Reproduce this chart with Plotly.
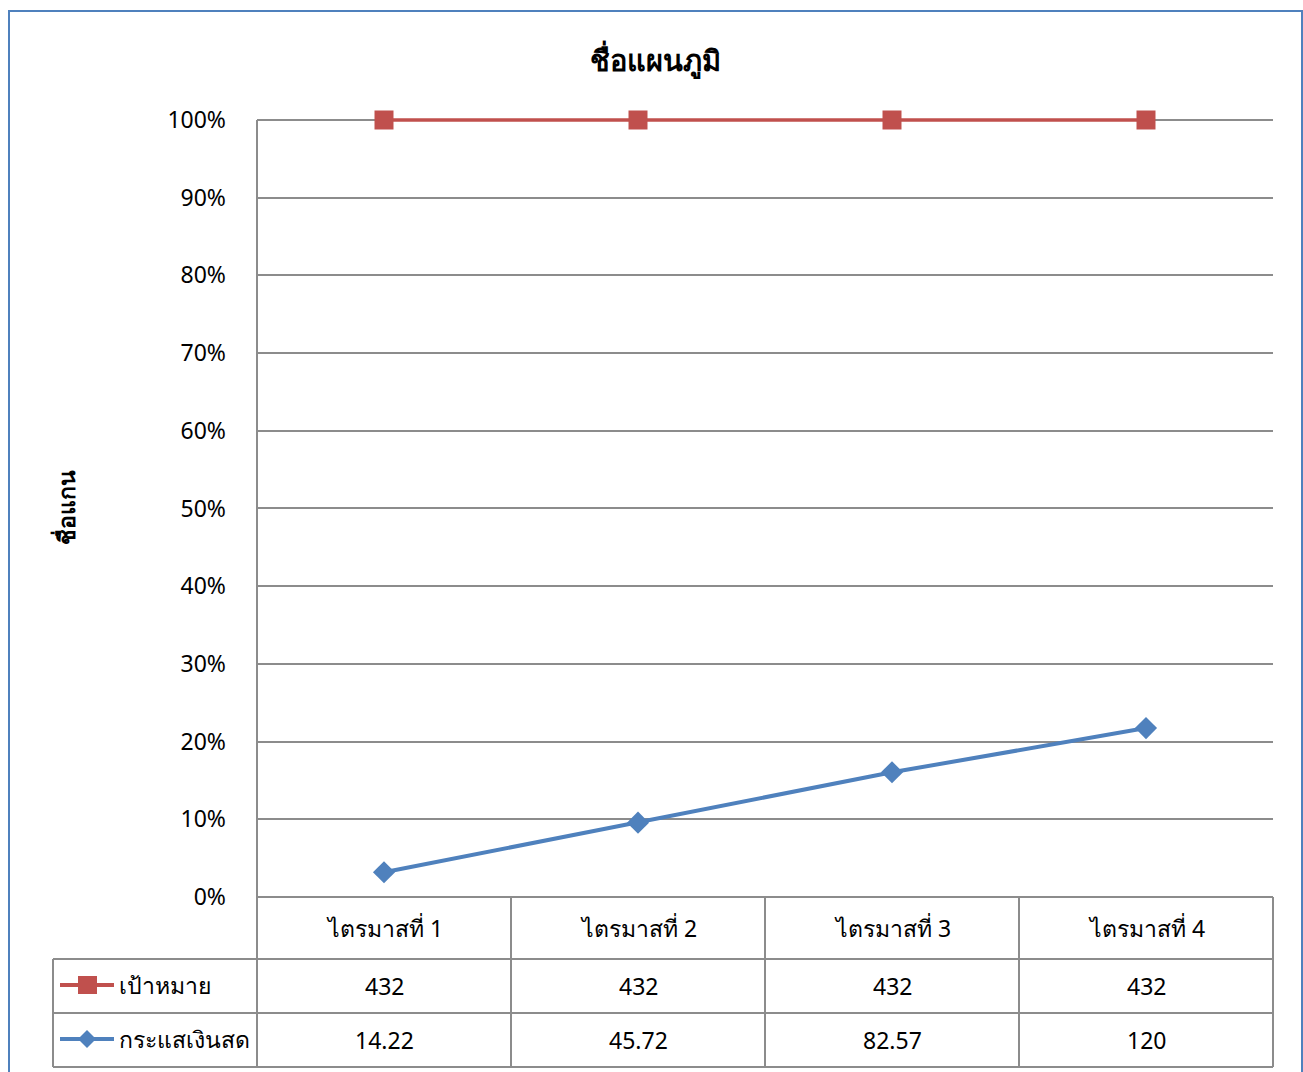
import plotly.graph_objects as go

categories = ["ไตรมาสที่ 1", "ไตรมาสที่ 2", "ไตรมาสที่ 3", "ไตรมาสที่ 4"]
series_names = ["เป้าหมาย", "กระแสเงินสด"]
target_values = [432, 432, 432, 432]
cash_values = [14.22, 45.72, 82.57, 120]
cash_labels = ["14.22", "45.72", "82.57", "120"]
target_labels = ["432", "432", "432", "432"]
chart_title = "ชื่อแผนภูมิ"
y_title = "ชื่อแกน"

W, H = 1303, 1072
FONT = "Noto Sans, DejaVu Sans, sans-serif"
RED = "#C0504D"
BLUE = "#4F81BD"
GRID = "#8C8C8C"


def xp(px):
    return px / W


def yp(py):
    return 1 - py / H


# 100% stacked line: cash first, target stacked on top
totals = [c + t for c, t in zip(cash_values, target_values)]
cash_pct = [c / s for c, s in zip(cash_values, totals)]
target_pct = [(c + t) / s for c, t, s in zip(cash_values, target_values, totals)]

x_idx = list(range(len(categories)))

fig = go.Figure()
fig.add_trace(go.Scatter(
    x=x_idx, y=target_pct, mode="lines+markers", name=series_names[0],
    line=dict(color=RED, width=3.5),
    marker=dict(symbol="square", size=19, color=RED),
    cliponaxis=False, showlegend=False,
))
fig.add_trace(go.Scatter(
    x=x_idx, y=cash_pct, mode="lines+markers", name=series_names[1],
    line=dict(color=BLUE, width=4),
    marker=dict(symbol="diamond", size=17, color=BLUE),
    cliponaxis=False, showlegend=False,
))

plot_l, plot_r, plot_t, plot_b = 257, 1273, 120, 897
col_w = (plot_r - plot_l) / len(categories)
row_hdr_b = 959
row1_b = 1013
row2_b = 1067
leg_l = 53

# small headroom above 100% so the top line isn't clipped
y_top = 1.006
dom_top_px = plot_b - (plot_b - plot_t) * y_top

shapes = []
annots = []
line_style = dict(color=GRID, width=2)

# outer chart border
shapes.append(dict(type="rect", xref="paper", yref="paper",
                   x0=xp(9), x1=xp(1302), y0=yp(1090), y1=yp(11),
                   line=dict(color=BLUE, width=2)))

# y axis line
shapes.append(dict(type="line", xref="paper", yref="paper",
                   x0=xp(plot_l), x1=xp(plot_l), y0=yp(plot_b), y1=yp(plot_t),
                   line=line_style, layer="below"))

# table horizontal lines
for y in [plot_b, row_hdr_b, row1_b, row2_b]:
    x0 = plot_l if y == plot_b else leg_l
    shapes.append(dict(type="line", xref="paper", yref="paper",
                       x0=xp(x0), x1=xp(plot_r), y0=yp(y), y1=yp(y), line=line_style))
# vertical lines
for i in range(len(categories) + 1):
    x = plot_l + i * col_w
    shapes.append(dict(type="line", xref="paper", yref="paper",
                       x0=xp(x), x1=xp(x), y0=yp(plot_b), y1=yp(row2_b), line=line_style))
shapes.append(dict(type="line", xref="paper", yref="paper",
                   x0=xp(leg_l), x1=xp(leg_l), y0=yp(row_hdr_b), y1=yp(row2_b), line=line_style))

tfont = dict(family=FONT, size=23, color="#000000")
for i, cat in enumerate(categories):
    cx = plot_l + (i + 0.5) * col_w
    annots.append(dict(x=xp(cx), y=yp((plot_b + row_hdr_b) / 2), xref="paper", yref="paper",
                       text=cat, showarrow=False, font=tfont, xanchor="center", yanchor="middle"))
    annots.append(dict(x=xp(cx), y=yp((row_hdr_b + row1_b) / 2), xref="paper", yref="paper",
                       text=target_labels[i], showarrow=False, font=tfont, xanchor="center", yanchor="middle"))
    annots.append(dict(x=xp(cx), y=yp((row1_b + row2_b) / 2), xref="paper", yref="paper",
                       text=cash_labels[i], showarrow=False, font=tfont, xanchor="center", yanchor="middle"))

# legend keys inside table
for k, (name, color) in enumerate(zip(series_names, [RED, BLUE])):
    yc = (row_hdr_b + row1_b) / 2 if k == 0 else (row1_b + row2_b) / 2
    yc -= 1
    shapes.append(dict(type="line", xref="paper", yref="paper",
                       x0=xp(60), x1=xp(114), y0=yp(yc), y1=yp(yc),
                       line=dict(color=color, width=4)))
    if k == 0:
        shapes.append(dict(type="rect", xref="paper", yref="paper",
                           x0=xp(78), x1=xp(97), y0=yp(yc + 9), y1=yp(yc - 9),
                           fillcolor=color, line=dict(width=0)))
    else:
        path = "M {} {} L {} {} L {} {} L {} {} Z".format(
            xp(87), yp(yc - 9), xp(96), yp(yc), xp(87), yp(yc + 9), xp(78), yp(yc))
        shapes.append(dict(type="path", xref="paper", yref="paper", path=path,
                           fillcolor=color, line=dict(width=0)))
    annots.append(dict(x=xp(117), y=yp(yc), xref="paper", yref="paper",
                       text=name, showarrow=False, font=tfont, xanchor="left", yanchor="middle"))

# y axis title
annots.append(dict(x=xp(66), y=yp(508), xref="paper", yref="paper", text="<b>" + y_title + "</b>",
                   showarrow=False, textangle=-90, font=dict(family=FONT, size=23, color="#000"),
                   xanchor="center", yanchor="middle"))

# chart title
annots.append(dict(x=xp(655), y=yp(60), xref="paper", yref="paper", text="<b>" + chart_title + "</b>",
                   showarrow=False, font=dict(family=FONT, size=29, color="#000"),
                   xanchor="center", yanchor="middle"))

fig.update_layout(
    width=W, height=H,
    margin=dict(l=0, r=0, t=0, b=0, pad=0, autoexpand=False),
    paper_bgcolor="white", plot_bgcolor="white",
    xaxis=dict(domain=[xp(plot_l), xp(plot_r)], range=[-0.5, len(categories) - 0.5],
               showticklabels=False, showgrid=False, zeroline=False, showline=False,
               fixedrange=True, automargin=False),
    yaxis=dict(domain=[yp(plot_b), yp(dom_top_px)], range=[0, y_top],
               tickvals=[i / 10 for i in range(11)],
               tickformat=".0%", showgrid=True, gridcolor=GRID, gridwidth=1.5,
               zeroline=False, showline=False,
               ticks="", ticklabelstandoff=30, automargin=False,
               tickfont=dict(family=FONT, size=23, color="#000")),
    shapes=shapes,
    annotations=annots,
)

fig.write_html("out.html")
